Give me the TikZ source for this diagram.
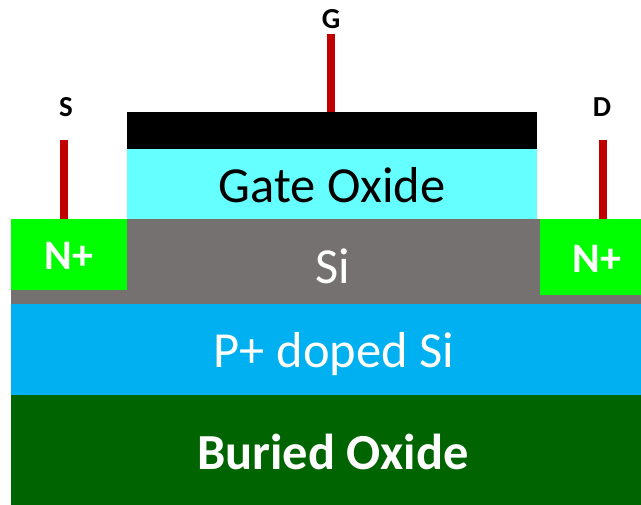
\documentclass[tikz,border=0pt]{standalone}
\usepackage{fontspec}
\setmainfont{Carlito}
\definecolor{siGray}{HTML}{767171}
\definecolor{oxCyan}{HTML}{66FFFF}
\definecolor{pBlue}{HTML}{00B0F0}
\definecolor{boxGreen}{HTML}{006400}
\definecolor{nGreen}{HTML}{00FF00}
\definecolor{wire}{HTML}{C00000}
\tikzset{
  x=1pt,y=-1pt,
  layer/.style={inner sep=0pt,outer sep=0pt,anchor=north west,draw=none},
  lbl/.style={inner sep=0pt,outer sep=0pt,anchor=base},
  big/.style={lbl,font=\fontsize{50.5}{50}\selectfont},
  bigb/.style={lbl,font=\fontsize{50.5}{50}\selectfont\bfseries,text=white},
  nlbl/.style={lbl,font=\fontsize{42}{42}\selectfont\bfseries,text=white},
  term/.style={lbl,font=\fontsize{29}{29}\selectfont\bfseries},
  wireline/.style={draw=wire,line width=8pt}
}
\begin{document}
\begin{tikzpicture}
\useasboundingbox (0,0) rectangle (641,505);
\node[layer,fill=siGray,minimum width=630pt,minimum height=85pt] (si) at (11,219) {};
\node[layer,fill=nGreen,minimum width=116pt,minimum height=71pt] (nl) at (11,219) {};
\node[layer,fill=nGreen,minimum width=101pt,minimum height=76pt] (nr) at (540,219) {};
\node[layer,fill=oxCyan,minimum width=410pt,minimum height=71pt] (ox) at (127,148) {};
\node[layer,fill=black,minimum width=410pt,minimum height=37pt] (gm) at (127,112) {};
\node[layer,fill=pBlue,minimum width=630pt,minimum height=91pt] (pd) at (11,304) {};
\node[layer,fill=boxGreen,minimum width=630pt,minimum height=110pt] (bx) at (11,395) {};
\node[big] (toxt) at (332,203) {Gate Oxide};
\node[big,text=white] (tsi) at (333,284) {Si};
\node[big,text=white] (tpd) at (334,368) {P+ doped Si};
\node[bigb] (tbx) at (333,470) {Buried Oxide};
\node[nlbl] (tnl) at (69,270) {N+};
\node[nlbl] (tnr) at (597,273) {N+};
\node[term] (ts) at (66,117) {S};
\node[term] (tg) at (331,29) {G};
\node[term] (td) at (602,117) {D};
\coordinate (ws) at (64,140);
\coordinate (wg) at (331,34);
\coordinate (wd) at (603,140);
\draw[wireline] (ws) -- (ws |- nl.north);
\draw[wireline] (wg) -- (wg |- gm.north);
\draw[wireline] (wd) -- (wd |- nr.north);
\end{tikzpicture}
\end{document}
